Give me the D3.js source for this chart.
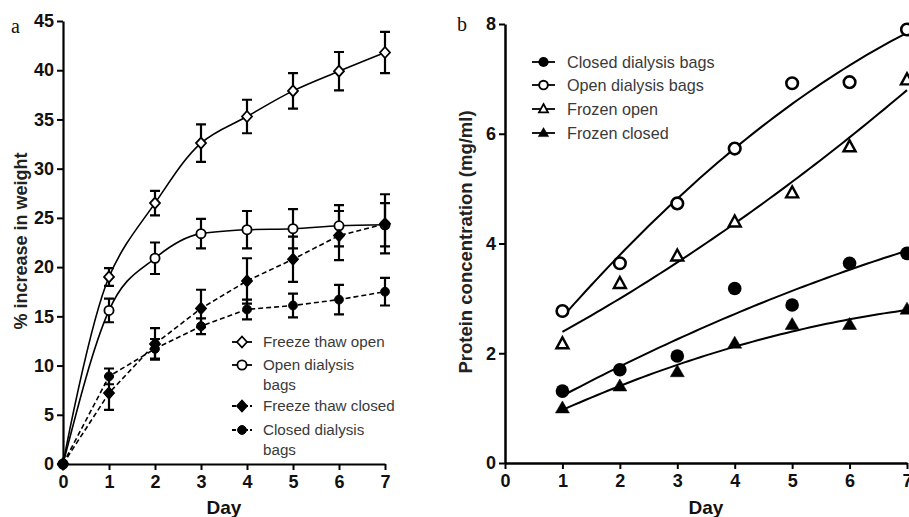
<!DOCTYPE html>
<html><head><meta charset="utf-8">
<script src="https://cdn.jsdelivr.net/npm/d3@7"></script>
<style>body{margin:0;background:#fff}svg{display:block}</style>
</head><body>
<svg id="c" width="909" height="517"></svg>
<script>
// ---- Panel a data ----
const daysA = [0,1,2,3,4,5,6,7];
const ftOpen      = [0,19.0,26.5,32.6,35.3,37.9,39.9,41.8];
const ftOpenErr   = [0,0.9,1.25,1.9,1.7,1.8,1.95,2.1];
const odOpen      = [0,15.6,20.9,23.4,23.8,23.9,24.2,24.3];
const odOpenErr   = [0,1.2,1.6,1.5,1.9,2.0,2.1,2.2];
const ftClosed    = [0,7.2,12.2,15.8,18.6,20.8,23.2,24.4];
const ftClosedErr = [0,1.7,1.6,1.9,2.3,2.3,2.5,3.0];
const cdClosed    = [0,8.9,11.7,14.0,15.7,16.1,16.7,17.5];
const cdClosedErr = [0,0.8,1.0,0.8,1.0,1.2,1.5,1.4];
const yTicksA = [0,5,10,15,20,25,30,35,40,45];
const legendA = [["Freeze thaw open"],["Open dialysis","bags"],["Freeze thaw closed"],["Closed dialysis","bags"]];

// ---- Panel b data ----
const daysB = [1,2,3,4,5,6,7];
const bClosedDialysis = [1.31,1.70,1.95,3.18,2.88,3.64,3.82];
const bOpenDialysis   = [2.77,3.64,4.73,5.73,6.92,6.94,7.9];
const bFrozenOpen     = [2.17,3.27,3.77,4.39,4.92,5.76,6.98];
const bFrozenClosed   = [1.0,1.4,1.66,2.18,2.52,2.52,2.8];
const yTicksB = [0,2,4,6,8];
const legendB = ["Closed dialysis bags","Open dialysis bags","Frozen open","Frozen closed"];

const svg = d3.select("#c");
const FONT = "'Liberation Sans', Arial, sans-serif";

// ===== Panel a =====
const xa = d3.scaleLinear().domain([0,7]).range([63,385]);
const ya = d3.scaleLinear().domain([0,45]).range([464,21]);
const ga = svg.append("g");

const axA = ga.append("g").attr("transform",`translate(0,${ya(0)})`)
  .call(d3.axisBottom(xa).tickValues(daysA).tickSize(6).tickSizeOuter(0).tickFormat(d3.format("d")));
const ayA = ga.append("g").attr("transform",`translate(${xa(0)},0)`)
  .call(d3.axisLeft(ya).tickValues(yTicksA).tickSize(6).tickSizeOuter(0));
[axA,ayA].forEach(a=>{
  a.select(".domain").attr("stroke","#000").attr("stroke-width",2.2);
  a.selectAll(".tick line").attr("stroke","#000").attr("stroke-width",2);
  a.selectAll(".tick text").attr("fill","#111").style("font-family",FONT).style("font-size","18px").style("font-weight","bold");
});
axA.selectAll(".tick text").attr("dy","0.85em");
ayA.selectAll(".tick text").attr("dx","0px");

ga.append("text").attr("x",224).attr("y",514).attr("text-anchor","middle")
  .style("font-family",FONT).style("font-size","19px").style("font-weight","bold").attr("fill","#111").text("Day");
ga.append("text").attr("transform","translate(27,241) rotate(-90)").attr("text-anchor","middle")
  .style("font-family",FONT).style("font-size","18px").style("font-weight","bold").attr("fill","#222").text("% increase in weight");
ga.append("text").attr("x",11).attr("y",33).style("font-family","'Liberation Serif','Times New Roman',serif")
  .style("font-size","20px").attr("fill","#111").text("a");

const seriesA = [
  {v:ftOpen,e:ftOpenErr,sym:"diamond",fill:"#fff",dash:null,curve:d3.curveCatmullRom.alpha(0.5)},
  {v:odOpen,e:odOpenErr,sym:"circle",fill:"#fff",dash:null,curve:d3.curveMonotoneX},
  {v:ftClosed,e:ftClosedErr,sym:"diamond",fill:"#000",dash:"5,3",curve:d3.curveLinear},
  {v:cdClosed,e:cdClosedErr,sym:"circle",fill:"#000",dash:"5,3",curve:d3.curveLinear}
];
function markA(g,sym,fill,x,y){
  if(sym==="diamond"){
    g.append("path").attr("d",`M${x},${y-5.5}L${x+5},${y}L${x},${y+5.5}L${x-5},${y}Z`)
      .attr("fill",fill).attr("stroke","#000").attr("stroke-width",1.8);
  } else {
    g.append("circle").attr("cx",x).attr("cy",y).attr("r",fill==="#fff"?4.6:4.4).attr("fill",fill).attr("stroke","#000").attr("stroke-width",fill==="#fff"?1.8:1);
  }
}
seriesA.forEach(s=>{
  const pts = daysA.map((d,i)=>[d,s.v[i],s.e[i]]);
  ga.append("path").datum(pts)
    .attr("d",d3.line().x(p=>xa(p[0])).y(p=>ya(p[1])).curve(s.curve))
    .attr("fill","none").attr("stroke","#000").attr("stroke-width",1.6).attr("stroke-dasharray",s.dash);
  pts.forEach(p=>{
    if(p[2]>0){
      const x=xa(p[0]), y1=ya(p[1]+p[2]), y2=ya(p[1]-p[2]);
      ga.append("path").attr("d",`M${x},${y1}V${y2}M${x-5},${y1}H${x+5}M${x-5},${y2}H${x+5}`)
        .attr("stroke","#000").attr("stroke-width",2.2).attr("fill","none");
    }
  });
});
seriesA.forEach(s=>{
  daysA.forEach((d,i)=>markA(ga,s.sym,s.fill,xa(d),ya(s.v[i])));
});

// legend a
const legYA = [342,365,406,430];
legendA.forEach((lab,i)=>{
  const s=seriesA[i], y=legYA[i];
  ga.append("line").attr("x1",232).attr("x2",252).attr("y1",y).attr("y2",y)
    .attr("stroke","#000").attr("stroke-width",1.8).attr("stroke-dasharray",s.dash?"4,2":null);
  markA(ga,s.sym,s.fill,242,y);
  lab.forEach((t,j)=>{
    ga.append("text").attr("x",263).attr("y",y+5+j*20).style("font-family",FONT).style("font-size","15.2px")
      .attr("fill","#3a3a3a").text(t);
  });
});

// ===== Panel b =====
const xb = d3.scaleLinear().domain([0,7]).range([505,907]);
const yb = d3.scaleLinear().domain([0,8]).range([463,24]);
const gb = svg.append("g");
const axB = gb.append("g").attr("transform",`translate(0,${yb(0)})`)
  .call(d3.axisBottom(xb).tickValues([0,1,2,3,4,5,6,7]).tickSize(6).tickSizeOuter(0).tickFormat(d3.format("d")));
const ayB = gb.append("g").attr("transform",`translate(${xb(0)},0)`)
  .call(d3.axisLeft(yb).tickValues(yTicksB).tickSize(6).tickSizeOuter(0));
[axB,ayB].forEach(a=>{
  a.select(".domain").attr("stroke","#000").attr("stroke-width",2.5);
  a.selectAll(".tick line").attr("stroke","#000").attr("stroke-width",2);
  a.selectAll(".tick text").attr("fill","#111").style("font-family",FONT).style("font-size","18px").style("font-weight","bold");
});
axB.selectAll(".tick text").attr("dy","0.85em");

gb.append("text").attr("x",706).attr("y",514).attr("text-anchor","middle")
  .style("font-family",FONT).style("font-size","19px").style("font-weight","bold").attr("fill","#111").text("Day");
gb.append("text").attr("transform","translate(472,242) rotate(-90)").attr("text-anchor","middle")
  .style("font-family",FONT).style("font-size","18.5px").style("font-weight","bold").attr("fill","#222").text("Protein concentration (mg/ml)");
gb.append("text").attr("x",457).attr("y",31).style("font-family","'Liberation Serif','Times New Roman',serif")
  .style("font-size","20px").attr("fill","#111").text("b");

function quadFit(xs,ys){
  // least squares y = a + b x + c x^2
  let S=[0,0,0,0,0],T=[0,0,0];
  xs.forEach((x,i)=>{for(let k=0;k<5;k++)S[k]+=Math.pow(x,k);for(let k=0;k<3;k++)T[k]+=ys[i]*Math.pow(x,k);});
  const M=[[S[0],S[1],S[2],T[0]],[S[1],S[2],S[3],T[1]],[S[2],S[3],S[4],T[2]]];
  for(let i=0;i<3;i++){for(let j=i+1;j<3;j++){const f=M[j][i]/M[i][i];for(let k=i;k<4;k++)M[j][k]-=f*M[i][k];}}
  const c=[0,0,0];
  for(let i=2;i>=0;i--){let s=M[i][3];for(let k=i+1;k<3;k++)s-=M[i][k]*c[k];c[i]=s/M[i][i];}
  return x=>c[0]+c[1]*x+c[2]*x*x;
}
const seriesB = [
  {v:bClosedDialysis,sym:"circle",fill:"#000"},
  {v:bOpenDialysis,sym:"circle",fill:"#fff"},
  {v:bFrozenOpen,sym:"tri",fill:"#fff"},
  {v:bFrozenClosed,sym:"tri",fill:"#000"}
];
function markB(g,sym,fill,x,y,sc){
  sc=sc||1;
  if(sym==="circle"){
    g.append("circle").attr("cx",x).attr("cy",y).attr("r",(fill==="#fff"?5.8:6.8)*sc)
      .attr("fill",fill).attr("stroke","#000").attr("stroke-width",fill==="#fff"?2.6*sc:0);
  } else {
    const h=(fill==="#fff"?11:12)*sc, w=(fill==="#fff"?12:14)*sc;
    g.append("path").attr("d",`M${x},${y-h*0.6}L${x+w/2},${y+h*0.4}L${x-w/2},${y+h*0.4}Z`)
      .attr("fill",fill).attr("stroke","#000").attr("stroke-width",fill==="#fff"?2.4*sc:0.5).attr("stroke-linejoin","miter");
  }
}
const fineX = d3.range(1,7.001,0.1);
seriesB.forEach(s=>{
  const f = quadFit(daysB,s.v);
  gb.append("path").datum(fineX)
    .attr("d",d3.line().x(x=>xb(x)).y(x=>yb(f(x))))
    .attr("fill","none").attr("stroke","#000").attr("stroke-width",2);
});
seriesB.forEach(s=>{
  daysB.forEach((d,i)=>markB(gb,s.sym,s.fill,xb(d),yb(s.v[i])));
});
// legend b
const legYB=[62,85,109,133];
legendB.forEach((t,i)=>{
  const s=seriesB[i], y=legYB[i];
  gb.append("line").attr("x1",532).attr("x2",555).attr("y1",y).attr("y2",y).attr("stroke","#000").attr("stroke-width",1.8);
  markB(gb,s.sym,s.fill,543.5,y,0.75);
  gb.append("text").attr("x",567).attr("y",y+5.5).style("font-family",FONT).style("font-size","16.2px")
    .attr("fill","#3a3a3a").text(t);
});
</script>
</body></html>
